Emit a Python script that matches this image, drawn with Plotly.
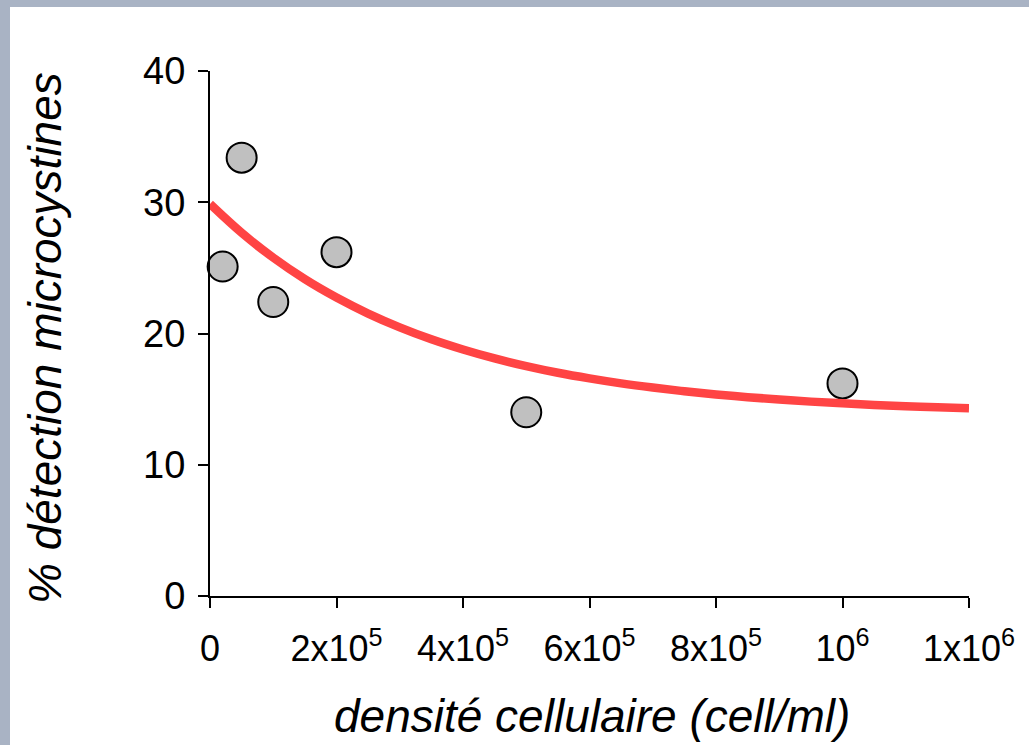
import plotly.graph_objects as go

# Data
pts_x = [2e4, 5e4, 1e5, 2e5, 5e5, 1e6]
pts_y = [25.1, 33.4, 22.4, 26.2, 14.0, 16.2]

curve_x = [0, 5e4, 1e5, 1.5e5, 2e5, 2.5e5, 3e5, 3.5e5, 4e5, 4.5e5, 5e5, 5.5e5, 6e5,
           6.5e5, 7e5, 7.5e5, 8e5, 8.5e5, 9e5, 9.5e5, 1e6, 1.05e6, 1.1e6, 1.15e6, 1.2e6]
curve_y = [29.87, 27.67, 25.78, 24.14, 22.74, 21.52, 20.47, 19.56, 18.78, 18.10, 17.52, 17.01,
           16.58, 16.20, 15.88, 15.60, 15.36, 15.15, 14.97, 14.81, 14.68, 14.56, 14.46, 14.38, 14.30]

x_tickvals = [0, 2e5, 4e5, 6e5, 8e5, 1e6, 1.2e6]
x_ticktext = ["0", "2x10<sup>5</sup>", "4x10<sup>5</sup>", "6x10<sup>5</sup>",
              "8x10<sup>5</sup>", "10<sup>6</sup>", "1x10<sup>6</sup>"]
y_tickvals = [0, 10, 20, 30, 40]

W, H = 1029, 745
L, R, T, B = 210, 60, 71, 149
pw, ph = W - L - R, H - T - B

def px_x(p):
    return (p - L) / pw

def px_y(p):
    return (H - B - p) / ph

FONT = "Arial, Liberation Sans, sans-serif"

fig = go.Figure()
fig.add_trace(go.Scatter(
    x=pts_x, y=pts_y, mode="markers",
    marker=dict(size=30, color="#C0C0C0", line=dict(color="black", width=2)),
    showlegend=False, cliponaxis=False))
fig.add_trace(go.Scatter(
    x=curve_x, y=curve_y, mode="lines", line=dict(color="#FF4444", width=8.5, shape="spline"),
    showlegend=False, cliponaxis=False))

fig.update_layout(
    width=W, height=H,
    margin=dict(l=L, r=R, t=T, b=B),
    paper_bgcolor="#A9B3C4",
    plot_bgcolor="rgba(0,0,0,0)",
    font=dict(family=FONT, color="black"),
    xaxis=dict(range=[0, 1.2e6], tickvals=x_tickvals, ticktext=x_ticktext,
               showgrid=False, zeroline=False, showline=True, linecolor="black", linewidth=2,
               ticks="outside", ticklen=10, tickwidth=2, tickcolor="black",
               ticklabelstandoff=10,
               tickfont=dict(size=36, family=FONT)),
    yaxis=dict(range=[0, 40], tickvals=y_tickvals,
               showgrid=False, zeroline=False, showline=True, linecolor="black", linewidth=2,
               ticks="outside", ticklen=10, tickwidth=2, tickcolor="black",
               ticklabelstandoff=5,
               tickfont=dict(size=38, family=FONT)),
    shapes=[dict(type="rect", xref="paper", yref="paper", layer="below",
                 x0=px_x(10), x1=px_x(W + 5), y0=px_y(H + 5), y1=px_y(7),
                 fillcolor="white", line=dict(width=0))],
    annotations=[
        dict(text="<i>densité cellulaire (cell/ml)</i>", xref="paper", yref="paper",
             x=px_x(592), y=px_y(716), xanchor="center", yanchor="middle",
             showarrow=False, font=dict(size=46, family=FONT)),
        dict(text="<i>% détection microcystines</i>", xref="paper", yref="paper",
             x=px_x(45), y=px_y(338), xanchor="center", yanchor="middle", textangle=-90,
             showarrow=False, font=dict(size=46, family=FONT)),
    ],
)

fig.write_html("out.html")
